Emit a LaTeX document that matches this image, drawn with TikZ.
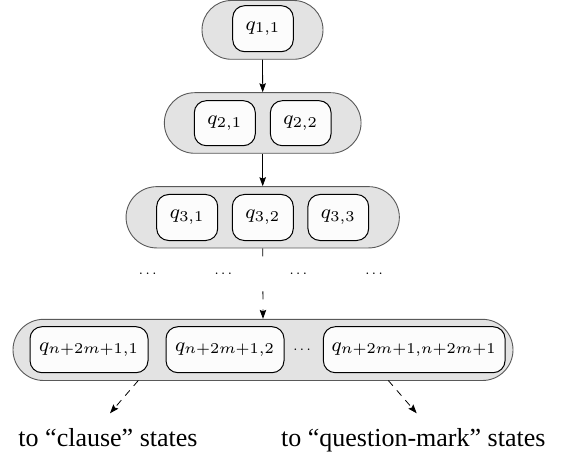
\RequirePackage{fix-cm}
\documentclass[tikz,border=0pt]{standalone}
\usepackage[no-math]{fontspec}
\setmainfont{Liberation Serif}
\usetikzlibrary{arrows.meta}
\newcommand\smath[1]{\scalebox{2.5}{\footnotesize$#1$}}
\begin{document}
\begin{tikzpicture}[x=1pt,y=-1pt,
  outer/.style={draw=black!65,line width=0.9pt,fill=black!11,inner sep=0pt},
  st/.style={draw=black,line width=1pt,fill=black!1,rounded corners=12pt,inner sep=0pt,
    minimum height=46pt},
  lbl/.style={font=\fontsize{26}{30}\selectfont,anchor=base,inner sep=0pt},
  dt/.style={font=\fontsize{15}{18}\selectfont,inner sep=0pt},
  arr/.style={line width=0.8pt,-{Stealth[length=9pt,width=6.5pt,inset=1.5pt]}},
  darr/.style={arr,dash pattern=on 7pt off 6pt}]
\useasboundingbox (0,0) rectangle (561,454);
% outer containers
\node[outer,rounded corners=29.4pt,minimum width=121pt,minimum height=58.8pt] (o1) at (262.5,29.9) {};
\node[outer,rounded corners=30.3pt,minimum width=196.7pt,minimum height=60.6pt] (o2) at (262.7,123) {};
\node[outer,rounded corners=30.7pt,minimum width=273.3pt,minimum height=61.3pt] (o3) at (262.7,217.3) {};
\node[outer,rounded corners=30.6pt,minimum width=500pt,minimum height=61.2pt] (o4) at (263,349.9) {};
% states
\node[st,minimum width=60.6pt] (q11) at (263,28.7) {\smath{q_{1,1}}};
\node[st,minimum width=61pt,minimum height=45pt] (q21) at (224.8,123.2) {\smath{q_{2,1}}};
\node[st,minimum width=60.7pt,minimum height=45pt] (q22) at (300.7,123.2) {\smath{q_{2,2}}};
\node[st,minimum width=61pt] (q31) at (187.2,217.5) {\smath{q_{3,1}}};
\node[st,minimum width=61pt] (q32) at (262.8,217.5) {\smath{q_{3,2}}};
\node[st,minimum width=60.7pt] (q33) at (338.3,217.5) {\smath{q_{3,3}}};
\node[st,minimum width=118pt] (qa) at (89,349.7) {\smath{q_{n+2m+1,1}}};
\node[st,minimum width=118pt] (qb) at (225,349.7) {\smath{q_{n+2m+1,2}}};
\node[st,minimum width=181.7pt] (qc) at (414.2,349.7) {\smath{q_{n+2m+1,n+2m+1}}};
\node[dt] (dm) at (302,349.7) {$\cdots$};
% dots row
\node[dt] (d1) at (147.7,274) {$\cdots$};
\node[dt] (d2) at (223.3,274) {$\cdots$};
\node[dt] (d3) at (298.3,274) {$\cdots$};
\node[dt] (d4) at (374,274) {$\cdots$};
% connectors
\draw[arr] (o1.south) -- (o2.north);
\draw[arr] (o2.south) -- (o3.north);
\draw[arr,dash pattern=on 8pt off 35pt on 8pt off 10pt on 12pt] (o3.south) -- (o4.north);
\coordinate (sl) at (138.3,380.5);
\coordinate (tl) at (110,413.3);
\coordinate (sr) at (388.3,380.5);
\coordinate (tr) at (416.7,413.3);
\draw[darr] (sl) -- (tl);
\draw[darr] (sr) -- (tr);
\node[lbl] (tcl) at (108,446.7) {to “clause” states};
\node[lbl] (tqm) at (413.3,446.7) {to “question-mark” states};
\end{tikzpicture}
\end{document}
